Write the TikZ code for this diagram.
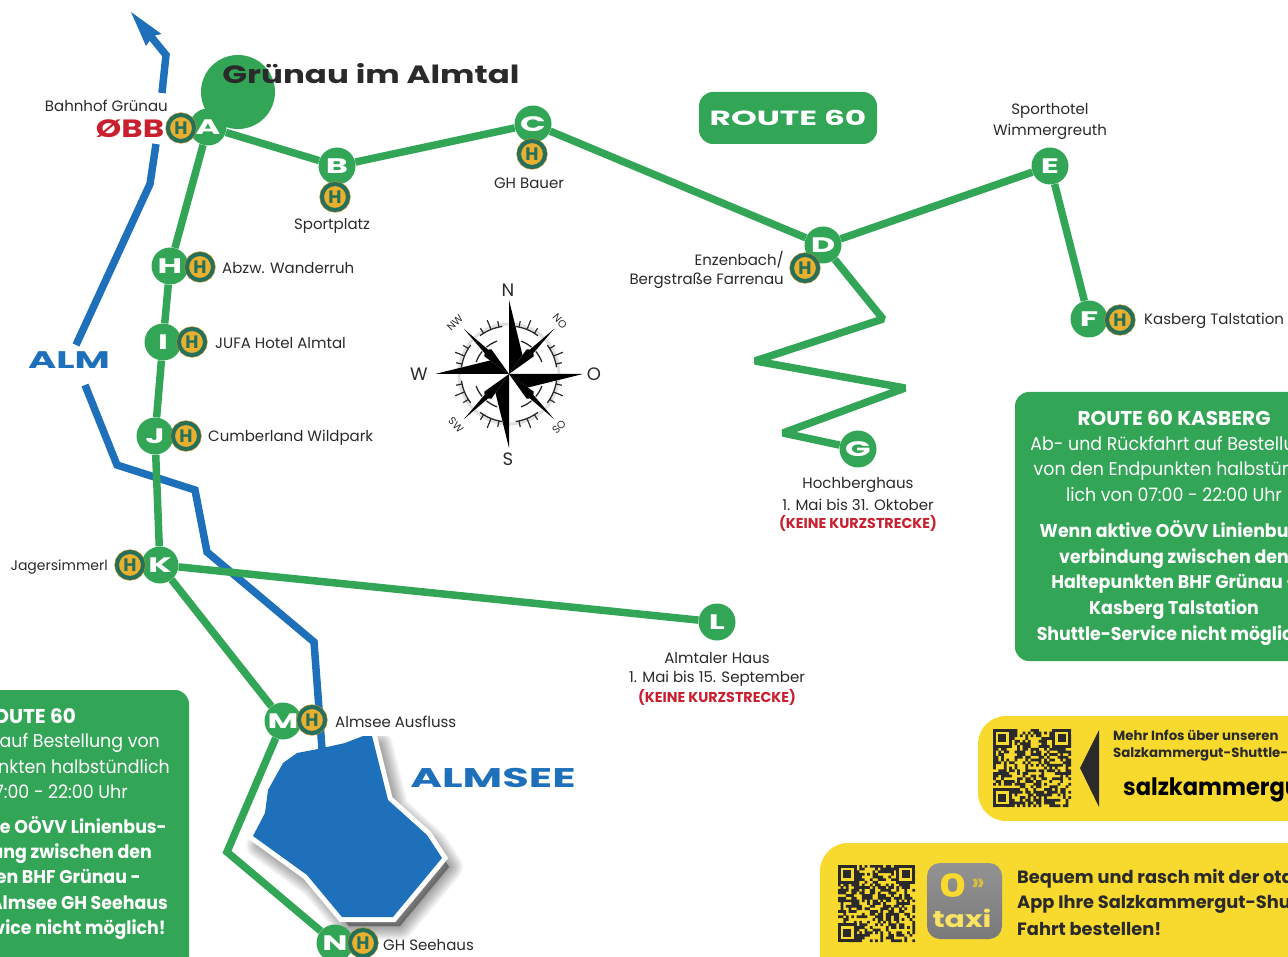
\documentclass[tikz,border=0pt]{standalone}
\usepackage{fontspec}
\setmainfont{Poppins}
\newfontfamily\widefont[FakeStretch=1.3]{Poppins}
\newfontfamily\widerfont[FakeStretch=1.6]{Poppins}
\newfontfamily\labelfont{Poppins}
\newfontfamily\narrowfont[FakeStretch=0.94]{Poppins}
\usetikzlibrary{calc}
\definecolor{grn}{HTML}{33A557}
\definecolor{blu}{HTML}{1F70BA}
\definecolor{teal1}{HTML}{24705A}
\definecolor{gold}{HTML}{E9AF2E}
\definecolor{ylw}{HTML}{F8DA2E}
\definecolor{ink}{HTML}{2A2A2A}
\definecolor{rd}{HTML}{C8202F}
\newcommand{\fs}[1]{\fontsize{#1}{#1}\selectfont}
\newcommand{\fsl}[2]{\lineskiplimit=-100pt\fontsize{#1}{#2}\selectfont}
\newcommand{\qrgrid}[3]{% x y size
  \fill[ink,shift={(#1,#2)},scale=#3/29]
  \foreach \i in {0,...,28}{\foreach \j in {0,...,28}{
    \pgfextra{\pgfmathsetmacro{\rr}{rnd}}
    \ifdim\rr pt<0.5pt (\i,\j) rectangle ++(1.02,1.02)\fi}};
  \begin{scope}[shift={(#1,#2)},scale=#3/29]
  \foreach \px/\py in {0/0,22/0,0/22}{
    \fill[ink] (\px,\py) rectangle ++(7,7);
    \fill[ylw] (\px+1,\py+1) rectangle ++(5,5);
    \fill[ink] (\px+2,\py+2) rectangle ++(3,3);}
  \end{scope}}
\tikzset{
  route/.style={draw=grn,line width=7.5pt,line join=bevel},
  river/.style={draw=blu,line width=7.5pt,line join=miter},
  stopc/.style={circle,fill=grn,minimum size=37pt,inner sep=0pt,text=white,font=\widerfont\bfseries\fs{21}},
  halt/.style={circle,preaction={draw=gold!80!black,line width=5.2pt},draw=teal1,line width=4pt,fill=gold,minimum size=26pt,inner sep=0pt,text=teal1,font=\labelfont\bfseries\fs{18}},
  lbl/.style={inner sep=0pt,yshift=-1.5pt,text=ink,font=\labelfont\fs{15}},
  redl/.style={inner sep=0pt,yshift=-1pt,text=rd,font=\labelfont\bfseries\fs{14.3}},
  boxt/.style={inner sep=0pt,text=white,align=center,font=\narrowfont\fsl{18.5}{25.7}},
  boxb/.style={inner sep=0pt,text=white,align=center,font=\narrowfont\bfseries\fsl{18.5}{25.7}},
  boxh/.style={inner sep=0pt,text=white,font=\labelfont\bfseries\fs{20}},
  ml/.style={inner sep=0pt,anchor=base east,text=white,font=\narrowfont\fs{18.5}},
  mb/.style={inner sep=0pt,anchor=base east,text=white,font=\narrowfont\bfseries\fs{18.5}},
  comp/.style={inner sep=0pt,text=ink,font=\labelfont\fs{18}},
  compm/.style={inner sep=0pt,text=ink,font=\labelfont\fs{10.5}},
  ylt/.style={inner sep=0pt,anchor=west,text=ink,font=\labelfont\bfseries},
}
\begin{document}
\begin{tikzpicture}[x=1pt,y=-1pt]
\useasboundingbox (0,0) rectangle (1288,957);
\clip (0,0) rectangle (1288,957);
% panels
\fill[grn,rounded corners=14pt] (1015,392) rectangle (1320,661);
\fill[grn,rounded corners=14pt] (-60,690) rectangle (189,990);
\fill[ylw,rounded corners=28pt] (978,716) rectangle (1340,821);
\fill[ylw,rounded corners=28pt] (820,843) rectangle (1340,990);
% rivers
\coordinate (r0) at (131,12);
\coordinate (r1) at (166,55);
\coordinate (r2) at (162,93);
\coordinate (r3) at (156,144);
\coordinate (r4) at (150,184);
\coordinate (r5) at (76,345);
\coordinate (r6) at (85,385);
\coordinate (r7) at (117,465);
\coordinate (r8) at (195,490);
\coordinate (r9) at (207,552);
\coordinate (r10) at (314,642);
\coordinate (r11) at (322,749);
\draw[river] ($(r1)!0.62!(r0)$) -- (r1) -- (r2);
\fill[blu] (r0) -- (161.5,34) -- (153,36) -- (146,46) -- cycle;
\draw[river] (r3) -- (r4) -- (r5);
% lake
\foreach \w in {28,26,24,22,20,18,16,14,12,10,8,6,4,2}{
\draw[black,opacity=.03,fill=black,line width=\w pt,line join=round,shift={(7,9)}]
 (253,836) -- (265,813) -- (268,790) -- (283,763) -- (297,753) -- (318,749) -- (327,747) -- (345,743) -- (363,736) -- (372,736) -- (388,800) -- (427,835) -- (442,858) -- (393,917) -- (342,917) -- (307,875) -- cycle;}
\draw[white,fill=white,line width=10pt,line join=miter]
 (253,836) -- (265,813) -- (268,790) -- (283,763) -- (297,753) -- (318,749) -- (327,747) -- (345,743) -- (363,736) -- (372,736) -- (388,800) -- (427,835) -- (442,858) -- (393,917) -- (342,917) -- (307,875) -- cycle;
\fill[white] (200,700) rectangle (470,736);
\draw[river] (r6) -- (r7) -- (r8) -- (r9) -- (r10) -- (r11);
\fill[blu] (253,836) -- (265,813) -- (268,790) -- (283,763) -- (297,753) -- (318,749) -- (327,747) -- (345,743) -- (363,736) -- (372,736) -- (388,800) -- (427,835) -- (442,858) -- (393,917) -- (342,917) -- (307,875) -- cycle;
% big dot
\fill[grn] (238,92) circle (37);
% stops
\node[stopc] (A) at (208,127) {A};
\node[stopc] (B) at (337,166) {B};
\node[stopc] (C) at (533,124) {C};
\node[stopc] (D) at (823,245) {D};
\node[stopc] (E) at (1050,166) {E};
\node[stopc] (F) at (1089,319) {F};
\node[stopc] (G) at (858,449) {G};
\node[stopc] (H) at (170,266) {H};
\node[stopc] (I) at (163,342) {I};
\node[stopc] (J) at (155,436) {J};
\node[stopc] (K) at (160,565) {K};
\node[stopc] (L) at (717,622) {L};
\node[stopc] (M) at (283,721) {M};
\node[stopc] (N) at (335,943) {N};
% way points
\coordinate (z1) at (883,319);
\coordinate (z2) at (755,361);
\coordinate (z3) at (905,388);
\coordinate (z4) at (783,433);
\coordinate (z5) at (227,852);
\draw[route] (A) -- (B);
\draw[route] (B) -- (C);
\draw[route] (C) -- (D);
\draw[route] (D) -- (E);
\draw[route] (E) -- (F);
\draw[route] (D) -- (z1) -- (z2) -- (z3) -- (z4) -- (G);
\draw[route] (A) -- (H);
\draw[route] (H) -- (I);
\draw[route] (I) -- (J);
\draw[route] (J) -- (K);
\draw[route] (K) -- (L);
\draw[route] (K) -- (M);
\draw[route,line join=miter] (M) -- (z5) -- (N);
% halts
\node[halt] (hA) at (181,128) {H};
\node[halt] (hB) at (335,197) {H};
\node[halt] (hC) at (532,154) {H};
\node[halt] (hD) at (805,268) {H};
\node[halt] (hF) at (1120,320) {H};
\node[halt] (hH) at (200,267) {H};
\node[halt] (hI) at (192,342) {H};
\node[halt] (hJ) at (186,436) {H};
\node[halt] (hK) at (130,565) {H};
\node[halt] (hM) at (312,720) {H};
\node[halt] (hN) at (363,943) {H};
% titles
\node[inner sep=0pt,text=ink,font=\widefont\bfseries\fs{25}] (title) at (371,74) {Grünau im Almtal};
\node[inner sep=0pt,fill=grn,rounded corners=14pt,minimum width=178pt,minimum height=52pt,text=white,font=\widerfont\bfseries\fs{20.5}] (rt) at (788,118) {ROUTE 60};
\node[inner sep=0pt,text=blu,font=\widerfont\bfseries\fs{24}] (alm) at (69,360) {ALM};
\node[inner sep=0pt,text=blu,font=\widerfont\bfseries\fs{27}] (almsee) at (493,778) {ALMSEE};
\node[inner sep=0pt,text=rd,font=\widefont\bfseries\fs{25}] (obb) at (130,129) {ØBB};
% labels
\node[lbl,anchor=east] (t1) at (168,104) {Bahnhof Grünau};
\node[lbl] (t2) at (332,224) {Sportplatz};
\node[lbl] (t3) at (529,182) {GH Bauer};
\node[lbl,anchor=east] (t4) at (784,258) {Enzenbach/};
\node[lbl,anchor=east] (t5) at (784,279) {Bergstraße Farrenau};
\node[lbl] (t6) at (1050,109) {Sporthotel};
\node[lbl] (t7) at (1050,130) {Wimmergreuth};
\node[lbl,anchor=west] (t8) at (1144,319) {Kasberg Talstation};
\node[lbl,anchor=west] (t9) at (222,267) {Abzw. Wanderruh};
\node[lbl,anchor=west] (t10) at (215,342) {JUFA Hotel Almtal};
\node[lbl,anchor=west] (t11) at (208,436) {Cumberland Wildpark};
\node[lbl,anchor=east,font=\labelfont\fs{14}] (t12) at (108,566) {Jagersimmerl};
\node[lbl] (t13) at (858,483) {Hochberghaus};
\node[lbl] (t14) at (858,503) {1. Mai bis 31. Oktober};
\node[redl] (t15) at (858,522) {(KEINE KURZSTRECKE)};
\node[lbl] (t16) at (717,657) {Almtaler Haus};
\node[lbl] (t17) at (717,677) {1. Mai bis 15. September};
\node[redl] (t18) at (717,696) {(KEINE KURZSTRECKE)};
\node[lbl,anchor=west] (t19) at (335,720) {Almsee Ausfluss};
\node[lbl,anchor=west] (t20) at (383,944) {GH Seehaus};
% right box
\node[boxh] (k1) at (1174,418) {ROUTE 60 KASBERG};
\node[boxt] (k2) at (1174,469) {Ab- und Rückfahrt auf Bestellung\\von den Endpunkten halbstünd-\\lich von 07:00 - 22:00 Uhr};
\node[boxb] (k3) at (1174,583) {Wenn aktive OÖVV Linienbus-\\verbindung zwischen den\\Haltepunkten BHF Grünau -\\Kasberg Talstation\\Shuttle-Service nicht möglich!};
% left box
\node[boxh,anchor=east] (m1) at (76,716) {ROUTE 60};
\node[ml] (m2) at (160,747.5) {Ab- und Rückfahrt auf Bestellung von};
\node[ml] (m3) at (170,773) {den Endpunkten halbstündlich};
\node[ml] (m4) at (128,798) {von 07:00 - 22:00 Uhr};
\node[mb] (m5) at (167,833.5) {Wenn aktive OÖVV Linienbus-};
\node[mb] (m6) at (152,858.5) {verbindung zwischen den};
\node[mb] (m7) at (141,883.5) {Haltepunkten BHF Grünau -};
\node[mb] (m8) at (168,909.5) {Almsee GH Seehaus};
\node[mb] (m9) at (166,934.5) {Shuttle-Service nicht möglich!};
% yellow panels
\pgfmathsetseed{4242}
\qrgrid{993}{729}{78}
\qrgrid{838}{865}{77}
\fill[ink] (1099,730) -- (1080,768) -- (1099,807) -- cycle;
\node[ylt,font=\labelfont\bfseries\fs{13.3}] (y1) at (1113,735) {Mehr Infos über unseren};
\node[ylt,font=\labelfont\bfseries\fs{13.3}] (y2) at (1113,754) {Salzkammergut-Shuttle-Service};
\node[ylt,text=black,font=\narrowfont\bfseries\fs{24}] (y3) at (1123,790) {salzkammergut};
\node[ylt,font=\labelfont\bfseries\fs{17.8}] (y4) at (1017,879) {Bequem und rasch mit der otaxi};
\node[ylt,font=\labelfont\bfseries\fs{17.8}] (y5) at (1017,904) {App Ihre Salzkammergut-Shuttle};
\node[ylt,font=\labelfont\bfseries\fs{17.8}] (y6) at (1017,929) {Fahrt bestellen!};
% taxi icon
\shade[top color=gray!85!white,bottom color=gray!95!black,rounded corners=13pt] (927,863) rectangle (1002,939);
\node[inner sep=0pt,text=ylw,font=\widefont\bfseries\fs{32}] (tx1) at (953,886) {0};
\node[inner sep=0pt,text=ylw!70!gray,font=\labelfont\bfseries\fs{24}] (tx2) at (978,885) {»};
\node[inner sep=0pt,text=ylw!75!white,font=\widefont\bfseries\fs{23}] (tx3) at (962,918) {taxi};
% compass
\begin{scope}[shift={(509,374)}]
\draw[black!12,line width=3pt] (0,0) circle (50);
\foreach \b in {0,90,180,270}{
  \begin{scope}[rotate=\b]
  \draw[ink,line width=1.3pt] (8:48) arc[start angle=8,end angle=37,radius=48];
  \draw[ink,line width=1.3pt] (53:48) arc[start angle=53,end angle=82,radius=48];
  \draw[ink,line width=1.3pt] (20:35) arc[start angle=20,end angle=40,radius=35];
  \draw[ink,line width=1.3pt] (50:35) arc[start angle=50,end angle=70,radius=35];
  \foreach \a/\r in {12/54,22/58,32/54,58/54,68/58,78/54}{
    \draw[ink,line width=1.2pt] (\a:48) -- (\a:\r);}
  \fill[black,rotate=45] (0,0) -- (30,-5) -- (32,-2.5) -- (64,0) -- (32,2.5) -- (30,5) -- cycle;
  \end{scope}}
\foreach \b in {0,-90,-180,-270}{
  \fill[black,rotate=\b] (0,-74) -- (13.5,-19) -- (0,0) -- cycle;}
\end{scope}
\node[comp] (cN) at (508,290) {N};
\node[comp] (cO) at (594,374) {O};
\node[comp] (cS) at (508,459) {S};
\node[comp] (cW) at (419,374) {W};
\node[compm,rotate=-50] (cNO) at (560,321) {NO};
\node[compm,rotate=45] (cNW) at (455,323) {NW};
\node[compm,rotate=-45] (cSW) at (456,425) {SW};
\node[compm,rotate=45] (cSO) at (559,427) {SO};
\end{tikzpicture}
\end{document}
